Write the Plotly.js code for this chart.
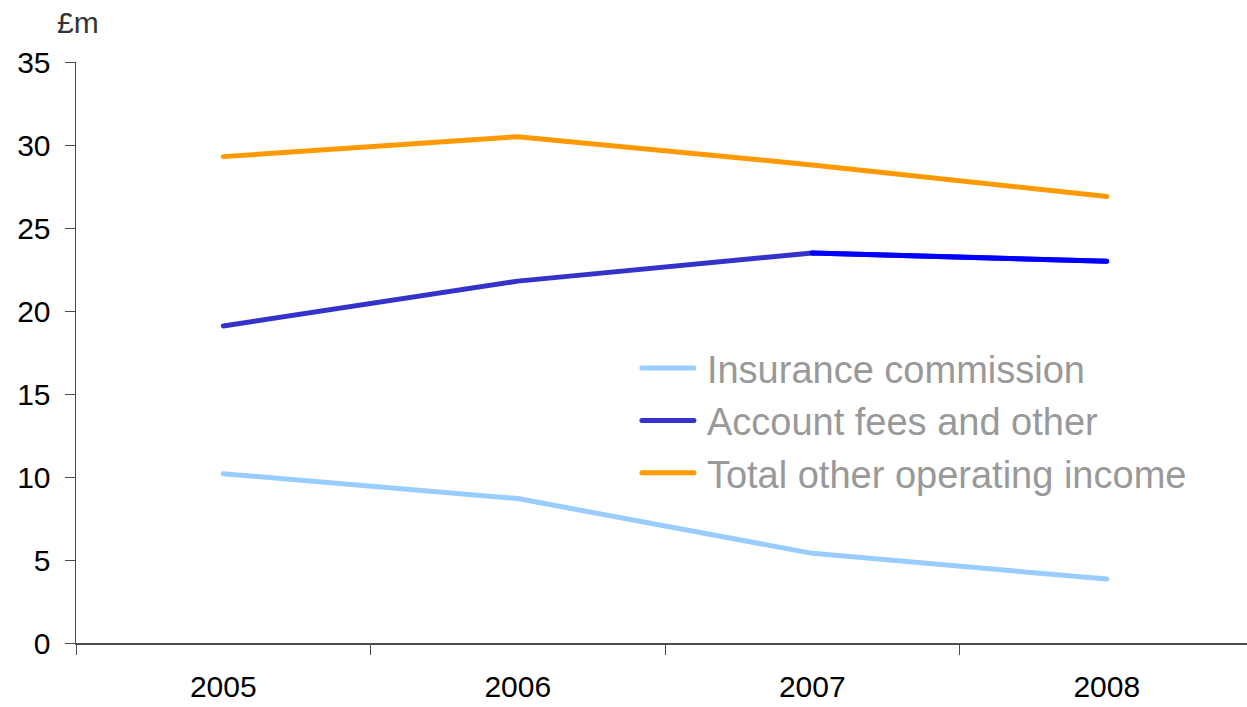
<!DOCTYPE html>
<html>
<head>
<meta charset="utf-8">
<script src="https://cdn.plot.ly/plotly-3.0.1.min.js"></script>
<style>
html, body { margin: 0; padding: 0; background: #fff; }
#chart { width: 1247px; height: 707px; }
.scatterlayer path.js-line { stroke-linecap: round; stroke-linejoin: round; }
</style>
</head>
<body>
<div id="chart"></div>
<script>
var years = ['2005', '2006', '2007', '2008'];
var insuranceCommission = [10.2, 8.7, 5.4, 3.85];
var accountFees = [19.1, 21.8, 23.5, 23.0];
var totalOtherIncome = [29.3, 30.5, 28.8, 26.9];
var yTicks = [0, 5, 10, 15, 20, 25, 30, 35];

var FONT = '"Liberation Sans", Arial, sans-serif';

var traces = [
  {
    x: years, y: insuranceCommission, name: 'Insurance commission',
    type: 'scatter', mode: 'lines',
    line: { color: '#99ccff', width: 5 }
  },
  {
    x: years, y: accountFees, name: 'Account fees and other',
    type: 'scatter', mode: 'lines',
    line: { color: '#3333cc', width: 5 }
  },
  {
    x: years.slice(2), y: accountFees.slice(2), name: 'Account fees and other',
    type: 'scatter', mode: 'lines', showlegend: false,
    line: { color: '#0000ff', width: 5 }
  },
  {
    x: years, y: totalOtherIncome, name: 'Total other operating income',
    type: 'scatter', mode: 'lines',
    line: { color: '#ff9900', width: 5 }
  }
];

var layout = {
  width: 1247, height: 707,
  margin: { l: 76, r: 0, t: 62, b: 64, pad: 0 },
  paper_bgcolor: '#ffffff', plot_bgcolor: '#ffffff',
  font: { family: FONT, color: '#000000', size: 30 },
  showlegend: true,
  hovermode: false,
  xaxis: {
    type: 'category',
    range: [-0.5, 3.476],
    showgrid: false, zeroline: false,
    showline: true, linecolor: '#4d4d4d', linewidth: 2,
    ticks: 'outside', tickson: 'boundaries', ticklen: 10, tickwidth: 1, tickcolor: '#4d4d4d',
    tickfont: { family: FONT, size: 30, color: '#000000' },
    ticklabelstandoff: 16,
    fixedrange: true
  },
  yaxis: {
    range: [0, 35],
    tickvals: yTicks,
    ticktext: yTicks.map(String),
    showgrid: false, zeroline: false,
    showline: true, linecolor: '#4d4d4d', linewidth: 1.5,
    ticks: 'outside', ticklen: 10, tickwidth: 1, tickcolor: '#4d4d4d',
    tickfont: { family: FONT, size: 30, color: '#000000' },
    ticklabelstandoff: 8,
    fixedrange: true
  },
  legend: {
    x: 0.479, y: 0.527, xanchor: 'left', yanchor: 'top',
    bgcolor: 'rgba(0,0,0,0)',
    font: { family: FONT, size: 38, color: '#999999' },
    itemwidth: 60,
    traceorder: 'normal'
  },
  annotations: [
    {
      text: '£m', xref: 'paper', yref: 'paper', x: 0, y: 1,
      xanchor: 'center', yanchor: 'middle', xshift: 2, yshift: 40,
      showarrow: false,
      font: { family: FONT, size: 30, color: '#333333' }
    }
  ]
};

Plotly.newPlot('chart', traces, layout, { displayModeBar: false, staticPlot: true }).then(function (gd) {
  gd.querySelectorAll('.legend .legendlines path').forEach(function (p) {
    p.setAttribute('d', 'M5,0h52');
    p.style.strokeLinecap = 'round';
  });
});
</script>
</body>
</html>
